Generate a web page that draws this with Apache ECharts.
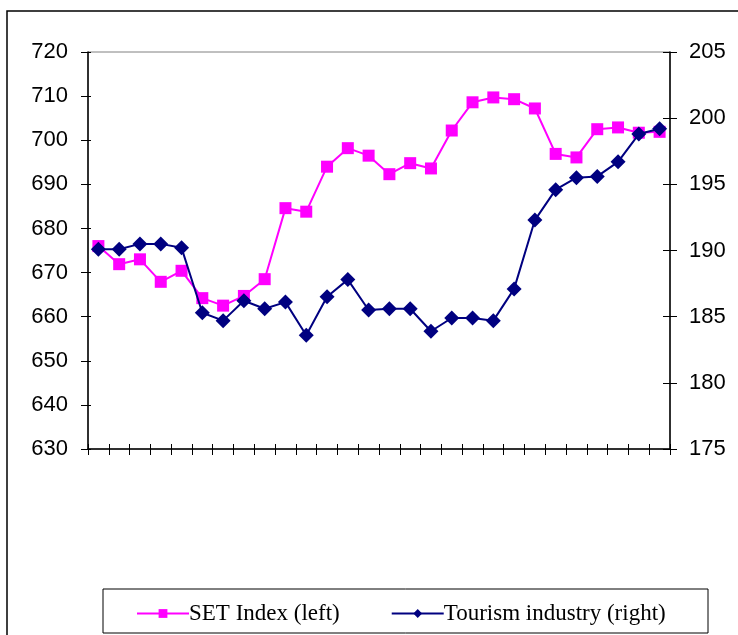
<!DOCTYPE html>
<html>
<head>
<meta charset="utf-8">
<script src="https://cdn.jsdelivr.net/npm/echarts@6/dist/echarts.min.js"></script>
<style>
  html, body { margin: 0; padding: 0; background: #fff; }
  #chart { width: 738px; height: 635px; }
</style>
</head>
<body>
<div id="chart"></div>
<script>
// 28 periods, no labels on the category axis
var categories = [];
for (var i = 1; i <= 28; i++) categories.push(String(i));

// SET Index (left axis)
var setIndex = [676.0, 671.9, 673.0, 667.9, 670.4, 664.2, 662.5, 664.7, 668.5, 684.6,
  683.8, 694.0, 698.2, 696.5, 692.3, 694.8, 693.6, 702.2, 708.6, 709.7,
  709.3, 707.2, 696.9, 696.1, 702.5, 702.9, 701.7, 701.9];

// Tourism industry (right axis)
var tourism = [190.1, 190.1, 190.5, 190.5, 190.2, 185.3, 184.7, 186.2, 185.6, 186.1,
  183.6, 186.5, 187.8, 185.5, 185.6, 185.6, 183.9, 184.9, 184.9, 184.7,
  187.1, 192.3, 194.6, 195.5, 195.6, 196.7, 198.8, 199.2];

var leftAxis = { min: 630, max: 720, interval: 10 };
var rightAxis = { min: 175, max: 205, interval: 5 };

var chart = echarts.init(document.getElementById('chart'));
var labelFont = { color: '#000', fontFamily: 'Liberation Sans', fontSize: 22 };

var option = {
  animation: false,
  backgroundColor: '#fff',
  grid: {
    left: 88, right: 68, top: 52, bottom: 186,
    show: true, borderColor: '#808080', borderWidth: 1
  },
  graphic: [
    // outer frame
    { type: 'rect', shape: { x: 7, y: 11, width: 800, height: 700 },
      style: { fill: null, stroke: '#000', lineWidth: 1.5 }, z: -1 },
    // legend box
    { type: 'rect', shape: { x: 103, y: 589, width: 605, height: 44 },
      style: { fill: '#fff', stroke: '#000', lineWidth: 1 }, z: -1 }
  ],
  legend: {
    left: 131, top: 597,
    itemWidth: 52, itemHeight: 11,
    itemGap: 51,
    textStyle: { fontFamily: 'Liberation Serif', fontSize: 23, color: '#000', padding: [0, 0, 0, -5] },
    data: ['SET Index (left)', 'Tourism industry (right)']
  },
  xAxis: [
    {
      type: 'category', data: categories, boundaryGap: true,
      axisLine: { lineStyle: { color: '#000', width: 1.5 } },
      axisTick: { show: true, inside: false, length: 6, lineStyle: { color: '#000' } },
      axisLabel: { show: false }, splitLine: { show: false }
    },
    {
      type: 'category', data: categories, boundaryGap: true, position: 'bottom',
      axisLine: { show: false },
      axisTick: { show: true, inside: true, length: 5, lineStyle: { color: '#000' } },
      axisLabel: { show: false }, splitLine: { show: false }
    }
  ],
  yAxis: [
    {
      type: 'value', position: 'left',
      min: leftAxis.min, max: leftAxis.max, interval: leftAxis.interval,
      axisLine: { show: true, lineStyle: { color: '#000', width: 1.5 } },
      axisTick: { show: true, inside: false, length: 7, lineStyle: { color: '#000' } },
      axisLabel: Object.assign({ margin: 20 }, labelFont),
      splitLine: { show: false }
    },
    {
      type: 'value', position: 'right',
      min: rightAxis.min, max: rightAxis.max, interval: rightAxis.interval,
      axisLine: { show: true, lineStyle: { color: '#000', width: 1.5 } },
      axisTick: { show: true, inside: false, length: 7, lineStyle: { color: '#000' } },
      axisLabel: Object.assign({ margin: 19 }, labelFont),
      splitLine: { show: false }
    },
    // inner halves of the crossing ticks
    {
      type: 'value', position: 'left',
      min: leftAxis.min, max: leftAxis.max, interval: leftAxis.interval,
      axisLine: { show: false },
      axisTick: { show: true, inside: true, length: 3, lineStyle: { color: '#000' } },
      axisLabel: { show: false }, splitLine: { show: false }
    },
    {
      type: 'value', position: 'right',
      min: rightAxis.min, max: rightAxis.max, interval: rightAxis.interval,
      axisLine: { show: false },
      axisTick: { show: true, inside: true, length: 7, lineStyle: { color: '#000' } },
      axisLabel: { show: false }, splitLine: { show: false }
    }
  ],
  series: [
    {
      name: 'SET Index (left)', type: 'line', data: setIndex,
      xAxisIndex: 0, yAxisIndex: 0,
      symbol: 'rect', symbolSize: 12,
      showSymbol: true, showAllSymbol: true,
      lineStyle: { color: '#FF00FF', width: 2 },
      itemStyle: { color: '#FF00FF' },
      z: 2
    },
    {
      name: 'Tourism industry (right)', type: 'line', data: tourism,
      xAxisIndex: 0, yAxisIndex: 1,
      symbol: 'diamond', symbolSize: 15,
      showSymbol: true, showAllSymbol: true,
      lineStyle: { color: '#000080', width: 2 },
      itemStyle: { color: '#000080' },
      z: 3
    }
  ]
};
chart.setOption(option);
</script>
</body>
</html>
